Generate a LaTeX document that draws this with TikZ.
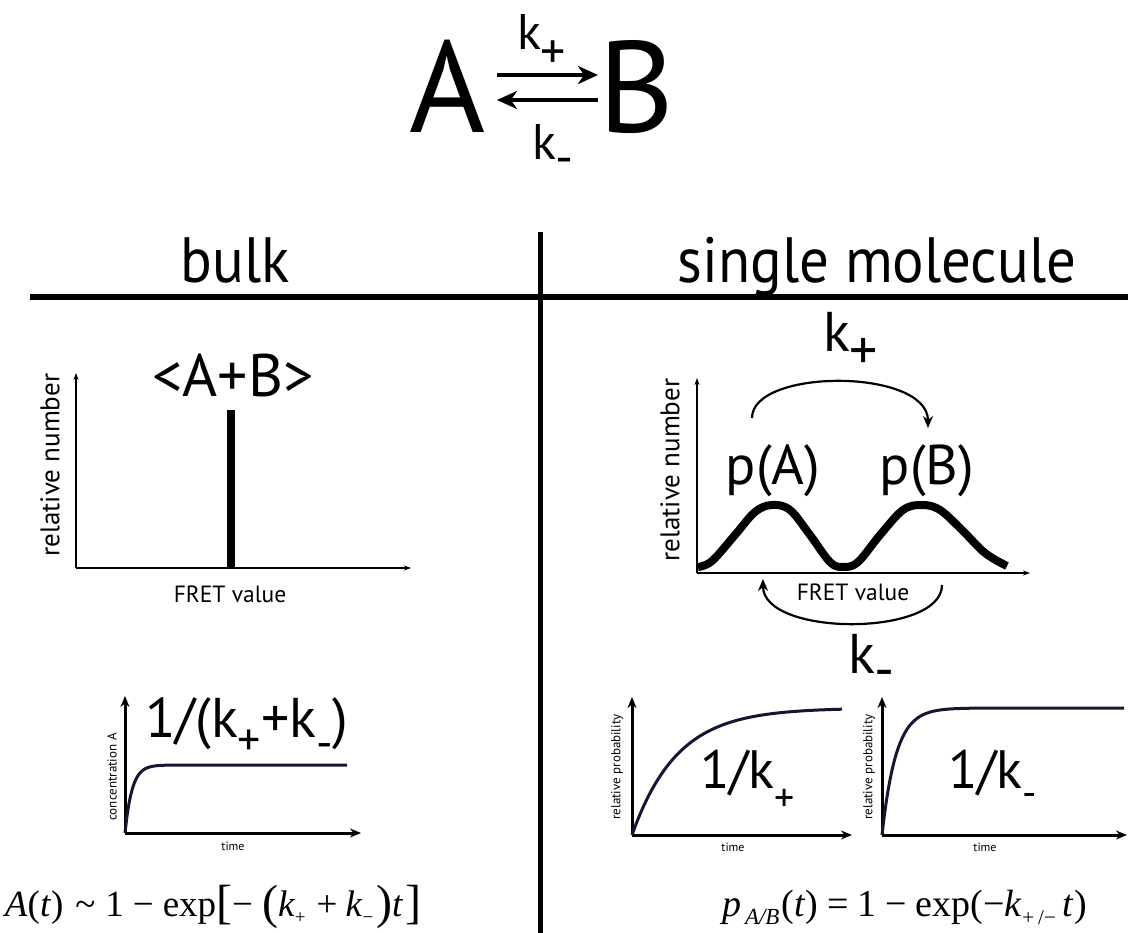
\documentclass[tikz,border=0pt]{standalone}
\usepackage{fontspec}
\setmainfont{PT Sans}
\newfontfamily\tnr{Liberation Serif}
\usetikzlibrary{arrows.meta}
\newcommand\fs[1]{\fontsize{#1}{#1}\selectfont}
\newcommand\lowr[2]{\raisebox{-#1}{#2}}
\definecolor{navy}{HTML}{1A1433}
\tikzset{
  txt/.style={inner sep=0pt, outer sep=0pt},
  thinaxis/.style={line width=1.3pt, -{Stealth[length=7pt,width=5pt]}},
  fataxis/.style={line width=3pt, -{Stealth[length=11pt,width=9pt]}},
  kin/.style={line width=3pt, draw=navy},
  rate/.style={line width=4pt, -{Stealth[length=20pt,width=18pt,inset=6pt]}},
  hop/.style={line width=2.2pt, -{Stealth[length=12pt,width=10pt]}},
  rule/.style={line width=5pt},
}
\begin{document}
\begin{tikzpicture}[x=1pt,y=-1pt]
\useasboundingbox (0,0) rectangle (1128,933);
% title reaction
\node[txt, anchor=base] (A) at (448,133) {\fs{130}A};
\node[txt, anchor=base] (B) at (636,133) {\fs{130}B};
\coordinate (ftop1) at (497,75);
\coordinate (ftop2) at (598,75);
\coordinate (fbot1) at (598,100);
\coordinate (fbot2) at (497,100);
\draw[rate] (ftop1) -- (ftop2);
\draw[rate] (fbot1) -- (fbot2);
\node[txt, anchor=base west] (kp) at (517,50) {\fs{50}k\lowr{19pt}{+}};
\node[txt, anchor=base west] (km) at (532,160) {\fs{50}k\lowr{15pt}{-}};
% headers and rules
\node[txt, anchor=base, xscale=0.92] (bulk) at (235,283) {\fs{64}bulk};
\node[txt, anchor=base, xscale=0.92] (single) at (877,283) {\fs{64}single molecule};
\coordinate (h1) at (30,297);
\coordinate (h2) at (1128,297);
\coordinate (v1) at (540,232);
\coordinate (v2) at (540,933);
\draw[line width=6pt] (h1) -- (h2);
\draw[rule] (v1) -- (v2);
% bulk histogram
\coordinate (bo) at (76,568);
\coordinate (by) at (76,373);
\coordinate (bx) at (411,568);
\draw[thinaxis] (bo) -- (by);
\draw[thinaxis] (bo) -- (bx);
\coordinate (bar1) at (231,410);
\coordinate (bar2) at (231,568);
\draw[line width=8pt] (bar1) -- (bar2);
\node[txt, anchor=base] (avg) at (233,397) {\fs{60}<A+B>};
\node[txt, rotate=90] (bylab) at (50,465) {\fs{27}relative number};
\node[txt] (bxlab) at (230,594) {\fs{23.5}FRET value};
% single molecule histogram
\coordinate (so) at (697,573);
\coordinate (sy) at (697,378);
\coordinate (sx) at (1030,573);
\draw[thinaxis] (so) -- (sy);
\draw[thinaxis] (so) -- (sx);
\draw[line width=8pt, line join=round] plot[smooth, tension=0.6] coordinates {
 (698,567) (712,561) (735,535) (755,512) (772,505) (790,510) (810,535) (830,562)
 (843,567) (858,562) (880,535) (903,510) (922,505) (940,510) (962,530) (985,553) (1007,566)};
\node[txt, anchor=base] (pA) at (773,484) {\fs{56}p(A)};
\node[txt, anchor=base] (pB) at (927,484) {\fs{56}p(B)};
\coordinate (hp1) at (752,418);
\coordinate (hp2) at (928,428);
\draw[hop] (hp1) .. controls (752,368) and (928,368) .. (hp2);
\node[txt, anchor=base west] (kplus) at (823,352) {\fs{56}k\lowr{18pt}{+}};
\coordinate (hm1) at (942,585);
\coordinate (hm2) at (763,579);
\draw[hop] (hm1) .. controls (942,637) and (763,637) .. (hm2);
\node[txt, anchor=base west] (kminus) at (848,673) {\fs{56}k\lowr{15pt}{-}};
\node[txt, rotate=90] (sylab) at (670,470) {\fs{27}relative number};
\node[txt] (sxlab) at (853,592) {\fs{23.5}FRET value};
% bulk kinetics
\coordinate (ko) at (125,833);
\coordinate (ky) at (125,696);
\coordinate (kx) at (361,833);
\draw[fataxis] (ko) -- (ky);
\draw[fataxis] (ko) -- (kx);
\draw[kin] plot[domain=125:347, samples=120] (\x, {833-68*(1-exp(-(\x-125)/7))});
\node[txt, anchor=base west] (tau) at (145,737) {\fs{56}1/(k\lowr{18pt}{\fs{46}+}+k\lowr{21pt}{\fs{46}-})};
\node[txt] (ktime) at (233,846) {\fs{12}time};
\node[txt, rotate=90] (kylab) at (112,777) {\fs{13}concentration A};
\node[txt, anchor=base west] (feqA) at (5,916) {\tnr\fs{37}\textit{A}(\textit{t})\hspace{12pt}\string~\hspace{10pt}1\hspace{9pt}\char"2212\hspace{9pt}exp{\fs{48}\raisebox{-2pt}{[}}\char"2212\hspace{9pt}{\fs{48}\raisebox{-2pt}{(}}\textit{k}\lowr{7pt}{\fs{19}+}\hspace{11pt}+\hspace{8pt}\textit{k}\lowr{7pt}{\fs{19}\char"2212}\hspace{3pt}{\fs{48}\raisebox{-2pt}{)}}\textit{t}\hspace{2pt}{\fs{48}\raisebox{-2pt}{]}}};
% single kinetics left
\coordinate (lo) at (632,835);
\coordinate (ly) at (632,697);
\coordinate (lx) at (852,835);
\draw[fataxis] (lo) -- (ly);
\draw[fataxis] (lo) -- (lx);
\draw[kin] plot[domain=632:842, samples=120] (\x, {835-127*(1-exp(-(\x-632)/45))});
\node[txt, anchor=base west] (taup) at (700,788) {\fs{54}1/k\lowr{23pt}{\fs{40}+}};
\node[txt] (ltime) at (733,847) {\fs{12}time};
\node[txt, rotate=90] (lylab) at (617,767) {\fs{13}relative probability};
% single kinetics right
\coordinate (ro) at (882,835);
\coordinate (ry) at (882,697);
\coordinate (rx) at (1127,835);
\draw[fataxis] (ro) -- (ry);
\draw[fataxis] (ro) -- (rx);
\draw[kin] plot[domain=882:1124, samples=120] (\x, {835-127*(1-exp(-(\x-882)/14))});
\node[txt, anchor=base west] (taum) at (948,788) {\fs{54}1/k\lowr{18pt}{\fs{40}-}};
\node[txt] (rtime) at (985,847) {\fs{12}time};
\node[txt, rotate=90] (rylab) at (869,767) {\fs{13}relative probability};
% formula right
\node[txt, anchor=base west] (feqP) at (722,916) {\tnr\fs{38}\textit{p}\hspace{4pt}\lowr{8pt}{\fs{23}\textit{A/B}}\hspace{2pt}(\textit{t})\hspace{9pt}=\hspace{9pt}1\hspace{9pt}\char"2212\hspace{9pt}exp(\char"2212\textit{k}\lowr{8pt}{\fs{21}+\hspace{4pt}/\char"2212}\hspace{7pt}\textit{t})};
\end{tikzpicture}
\end{document}
